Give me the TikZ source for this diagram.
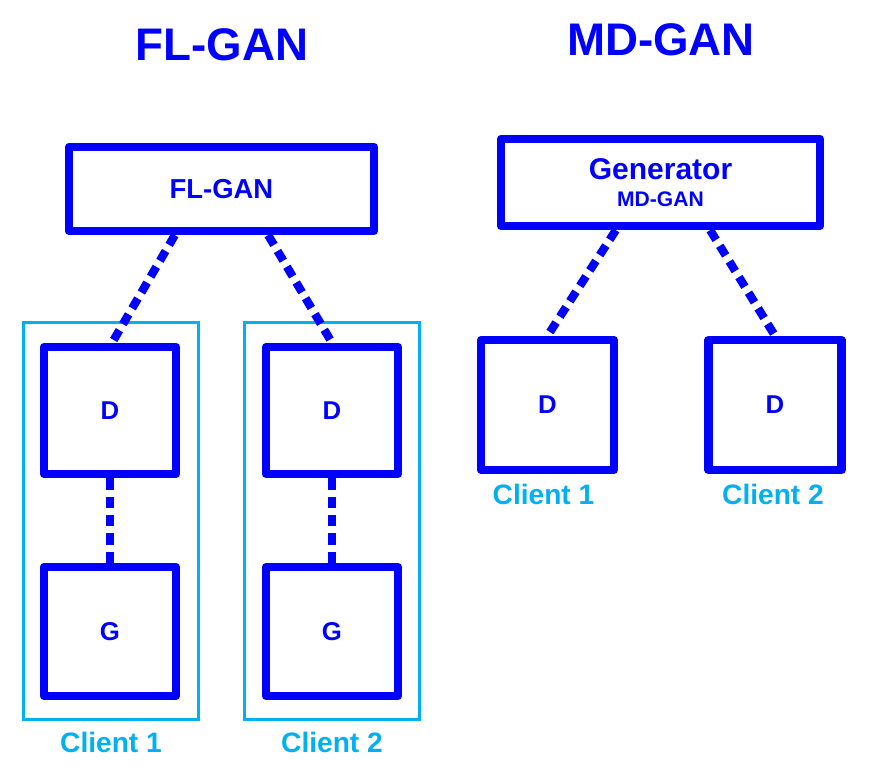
\documentclass[tikz,border=0pt]{standalone}
\usepackage{fontspec}
\setmainfont{Liberation Sans}
\usepackage{xcolor}
\usetikzlibrary{positioning,calc}

\definecolor{ganblue}{RGB}{0,0,255}
\definecolor{clientblue}{RGB}{0,176,240}

\begin{document}
\begin{tikzpicture}[x=0.03cm,y=-0.03cm,
  box/.style={draw=ganblue,line width=0.25cm,line join=round,text=ganblue,
              align=center,font=\bfseries\fontsize{22}{26}\selectfont},
  clientframe/.style={draw=clientblue,line width=0.09cm,minimum width=5.25cm,minimum height=11.91cm},
  clientlabel/.style={text=clientblue,font=\bfseries\fontsize{24}{28}\selectfont,inner sep=0pt},
  title/.style={text=ganblue,font=\bfseries\fontsize{39}{44}\selectfont},
  link/.style={draw=ganblue,line width=0.25cm,dash pattern=on 0.34cm off 0.21cm}]
\useasboundingbox (0,0) rectangle (892,779);
% titles
\node[title] (t1) at (222,45) {FL-GAN};
\node[title] (t2) at (661,40) {MD-GAN};
% FL-GAN side
\node[box,minimum width=9.15cm,minimum height=2.52cm,font=\bfseries\fontsize{23.4}{26}\selectfont] (flgan) at (221.5,189) {FL-GAN};
\node[clientframe] (c1) at (111,521) {};
\node[clientframe] (c2) at (332,521) {};
\node[box,minimum width=3.96cm,minimum height=3.81cm] (d1) at (110,410.5) {D};
\node[box,minimum width=3.96cm,minimum height=3.87cm] (g1) at (110,631.5) {G};
\node[box,minimum width=3.96cm,minimum height=3.81cm] (d2) at (332,410.5) {D};
\node[box,minimum width=3.96cm,minimum height=3.87cm] (g2) at (332,631.5) {G};
\node[clientlabel,below=0.32cm of c1] (l1) {Client 1};
\node[clientlabel,below=0.32cm of c2] (l2) {Client 2};
\draw[link] ([xshift=-1.4cm]flgan.south) -- ([xshift=0.06cm]d1.north);
\draw[link] ([xshift=1.4cm]flgan.south) -- (d2.north);
\draw[link] (d1) -- (g1);
\draw[link] (d2) -- (g2);
% MD-GAN side
\node[box,minimum width=9.57cm,minimum height=2.61cm,font=\bfseries\fontsize{25.6}{26}\selectfont] (gen) at (660.5,182.5)
  {Generator\\[-3pt]{\fontsize{18}{20}\selectfont MD-GAN}};
\node[box,minimum width=3.99cm,minimum height=3.9cm] (md1) at (547.5,405) {D};
\node[box,minimum width=3.99cm,minimum height=3.9cm] (md2) at (775,405) {D};
\node[clientlabel,below=0.3cm of md1,xshift=-0.12cm] (l3) {Client 1};
\node[clientlabel,below=0.3cm of md2,xshift=-0.06cm] (l4) {Client 2};
\draw[link] ([xshift=-1.34cm]gen.south) -- (md1.north);
\draw[link] ([xshift=1.49cm]gen.south) -- (md2.north);
\end{tikzpicture}
\end{document}
